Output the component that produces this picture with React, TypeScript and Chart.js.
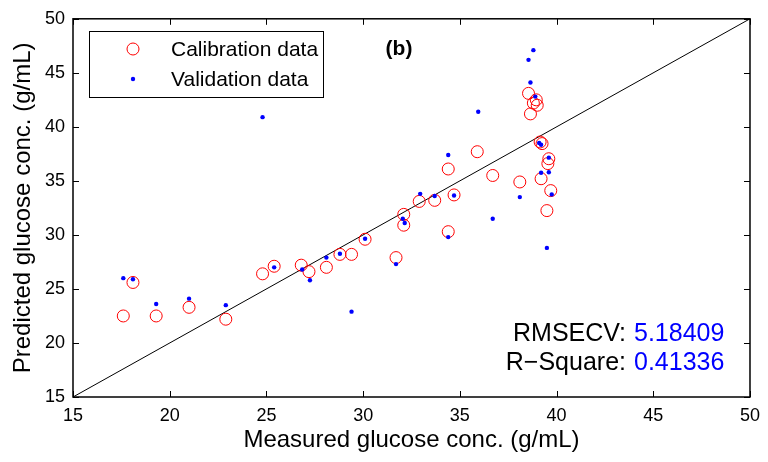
import React, { useEffect, useRef } from "react";
import { Chart, registerables } from "chart.js";

Chart.register(...registerables);

// ---- data ----
const calibrationX = [17.6, 18.1, 19.3, 21.0, 22.9, 24.8, 25.4, 26.8, 27.2, 28.1, 28.8, 29.4, 30.1, 31.7, 32.1, 32.1, 32.9, 33.7, 34.7, 34.4, 34.4, 35.9, 36.7, 38.1, 39.2, 39.15, 39.25, 39.6, 39.55, 39.7, 39.5, 38.55, 38.95, 38.8, 39.0, 38.65];
const calibrationY = [22.5, 25.6, 22.5, 23.3, 22.2, 26.4, 27.1, 27.2, 26.6, 27.0, 28.2, 28.2, 29.6, 27.9, 31.9, 30.9, 33.1, 33.2, 33.7, 30.3, 36.1, 37.7, 35.5, 34.9, 35.2, 38.6, 38.45, 37.05, 36.6, 34.1, 32.25, 43.1, 42.5, 42.2, 42.0, 41.2];
const validationX = [17.6, 18.1, 19.3, 21.0, 22.9, 24.8, 25.4, 26.85, 27.25, 28.1, 28.8, 29.4, 30.1, 31.7, 32.05, 32.15, 32.95, 33.7, 34.7, 34.4, 34.4, 35.95, 36.7, 38.1, 39.1, 39.2, 39.6, 39.2, 39.6, 39.75, 39.5, 38.8, 38.55, 38.65, 38.9];
const validationY = [26.0, 25.9, 23.6, 24.1, 23.5, 40.9, 27.0, 26.8, 25.8, 27.9, 28.25, 22.9, 29.65, 27.3, 31.5, 31.1, 33.8, 33.6, 33.65, 29.8, 37.4, 41.4, 31.5, 33.5, 38.5, 38.35, 37.15, 35.75, 35.8, 33.75, 28.8, 47.1, 46.2, 44.1, 42.8];
const identityLine = [15, 50];

const axisMin = 15;
const axisMax = 50;
const tickStep = 5;
const xTitle = "Measured glucose conc. (g/mL)";
const yTitle = "Predicted glucose conc. (g/mL)";
const legendLabels = ["Calibration data", "Validation data"];
const panelLabel = "(b)";
const statLabels = ["RMSECV:", "R\u2212Square:"];
const statValues = ["5.18409", "0.41336"];

const FONT = "'Liberation Sans', Arial, Helvetica, sans-serif";

const overlayPlugin = {
  id: "overlay",
  afterDatasetsDraw(chart: any) {
    const { ctx, chartArea: a, scales } = chart;
    const xs = scales.x;
    const ys = scales.y;
    ctx.save();
    ctx.strokeStyle = "#000";
    ctx.lineWidth = 1.5;
    ctx.strokeRect(a.left, a.top, a.right - a.left, a.bottom - a.top);
    const L = 6;
    ctx.lineWidth = 1;
    ctx.beginPath();
    for (let v = axisMin; v <= axisMax; v += tickStep) {
      const px = Math.round(xs.getPixelForValue(v)) + 0.5;
      ctx.moveTo(px, a.bottom);
      ctx.lineTo(px, a.bottom - L);
      ctx.moveTo(px, a.top);
      ctx.lineTo(px, a.top + L);
      const py = Math.round(ys.getPixelForValue(v)) + 0.5;
      ctx.moveTo(a.left, py);
      ctx.lineTo(a.left + L, py);
      ctx.moveTo(a.right, py);
      ctx.lineTo(a.right - L, py);
    }
    ctx.stroke();

    // legend box
    const bx = 89, by = 31, bw = 234, bh = 66;
    ctx.fillStyle = "#fff";
    ctx.fillRect(bx, by, bw, bh);
    ctx.lineWidth = 1;
    ctx.strokeStyle = "#000";
    ctx.strokeRect(bx + 0.5, by + 0.5, bw, bh);
    ctx.beginPath();
    ctx.strokeStyle = "#ff0000";
    ctx.arc(133, 49, 6, 0, Math.PI * 2);
    ctx.stroke();
    ctx.beginPath();
    ctx.fillStyle = "#0000ff";
    ctx.arc(133, 79, 2.2, 0, Math.PI * 2);
    ctx.fill();
    ctx.fillStyle = "#000";
    ctx.font = `21px ${FONT}`;
    ctx.textBaseline = "middle";
    ctx.textAlign = "left";
    ctx.fillText(legendLabels[0], 171, 50);
    ctx.fillText(legendLabels[1], 171, 80);

    // panel label
    ctx.font = `bold 21px ${FONT}`;
    ctx.textAlign = "center";
    ctx.fillText(panelLabel, 399, 49);

    // stats
    ctx.font = `25px ${FONT}`;
    ctx.textAlign = "right";
    ctx.fillStyle = "#000";
    ctx.fillText(statLabels[0], 626, 334);
    ctx.fillText(statLabels[1], 626, 363);
    ctx.textAlign = "left";
    ctx.fillStyle = "#0000ff";
    ctx.fillText(statValues[0], 634, 334);
    ctx.fillText(statValues[1], 634, 363);
    ctx.restore();
  },
};

export default function App() {
  const canvasRef = useRef<HTMLCanvasElement | null>(null);

  useEffect(() => {
    const canvas = canvasRef.current;
    if (!canvas) return;
    const calibration = calibrationX.map((x, i) => ({ x, y: calibrationY[i] }));
    const validation = validationX.map((x, i) => ({ x, y: validationY[i] }));
    const diag = identityLine.map((v) => ({ x: v, y: v }));

    const chart = new Chart(canvas, {
      type: "scatter",
      data: {
        datasets: [
          {
            label: legendLabels[1],
            data: validation,
            pointRadius: 2.2,
            pointHoverRadius: 2.2,
            pointBackgroundColor: "#0000ff",
            pointBorderWidth: 0,
            borderColor: "#0000ff",
            backgroundColor: "#0000ff",
          },
          {
            label: legendLabels[0],
            data: calibration,
            pointRadius: 6,
            pointHoverRadius: 6,
            pointBackgroundColor: "rgba(0,0,0,0)",
            pointBorderColor: "#ff0000",
            pointBorderWidth: 1,
            borderColor: "#ff0000",
            backgroundColor: "rgba(0,0,0,0)",
          },
          {
            type: "line",
            label: "y = x",
            data: diag,
            borderColor: "#000",
            borderWidth: 1,
            pointRadius: 0,
            fill: false,
          } as any,
        ],
      },
      options: {
        responsive: false,
        animation: false,
        events: [],
        layout: { padding: { top: 15, right: 15, left: 0, bottom: 0 } },
        plugins: {
          legend: { display: false },
          tooltip: { enabled: false },
        },
        scales: {
          x: {
            type: "linear",
            min: axisMin,
            max: axisMax,
            grid: { display: false, drawTicks: false },
            border: { display: false },
            ticks: {
              stepSize: tickStep,
              padding: 8,
              color: "#000",
              font: { family: FONT, size: 18 },
              maxRotation: 0,
            },
            title: {
              display: true,
              text: xTitle,
              color: "#000",
              font: { family: FONT, size: 24 },
              padding: { top: 0, bottom: 7 },
            },
            afterFit: (scale: any) => {
              scale.height = 65;
            },
          },
          y: {
            type: "linear",
            min: axisMin,
            max: axisMax,
            grid: { display: false, drawTicks: false },
            border: { display: false },
            ticks: {
              stepSize: tickStep,
              padding: 8,
              color: "#000",
              font: { family: FONT, size: 18 },
            },
            title: {
              display: true,
              text: yTitle,
              color: "#000",
              font: { family: FONT, size: 24 },
              padding: { top: 9, bottom: 0 },
            },
            afterFit: (scale: any) => {
              scale.width = 73;
            },
          },
        },
      },
      plugins: [overlayPlugin],
    });
    return () => chart.destroy();
  }, []);

  return (
    <div style={{ position: "absolute", left: 0, top: 0, width: 768, height: 462, background: "#fff" }}>
      <canvas ref={canvasRef} width={768} height={462} style={{ display: "block", width: 768, height: 462 }} />
    </div>
  );
}
